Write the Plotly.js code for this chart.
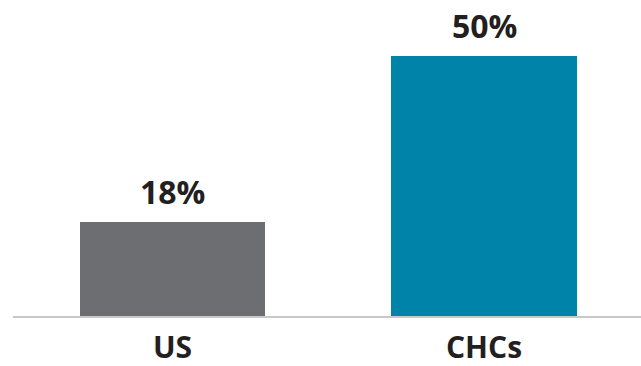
<!DOCTYPE html>
<html>
<head>
<meta charset="utf-8">
<script src="https://cdn.plot.ly/plotly-3.0.1.min.js"></script>
<style>html,body{margin:0;padding:0;background:#fff;}#chart{width:641px;height:366px;}</style>
</head>
<body>
<div id="chart"></div>
<script>
const categories = ["US", "CHCs"];
const values = [18, 50];
const valueLabels = ["18%", "50%"];
const barColors = ["#6d6e71", "#0083a9"];

const trace = {
  type: "bar",
  x: categories,
  y: values,
  marker: { color: barColors },
  width: 0.594,
  hoverinfo: "none"
};

const annotations = categories.map((c, i) => ({
  x: c,
  y: values[i],
  xref: "x",
  yref: "y",
  text: valueLabels[i],
  showarrow: false,
  yanchor: "bottom",
  yshift: 7,
  font: { family: "Open Sans", size: 32, color: "#231f20", weight: 700 }
}));

const layout = {
  width: 641,
  height: 366,
  margin: { l: 13, r: 0, t: 0, b: 50 },
  paper_bgcolor: "#ffffff",
  plot_bgcolor: "#ffffff",
  showlegend: false,
  bargap: 0,
  annotations: annotations,
  xaxis: {
    range: [-0.512, 1.504],
    showline: true,
    linecolor: "#c8c8c8",
    linewidth: 2,
    ticks: "",
    tickfont: { family: "Open Sans", size: 30, color: "#231f20", weight: 700 },
    ticklabelstandoff: 4,
    fixedrange: true
  },
  yaxis: {
    range: [0, 60.8],
    visible: false,
    showgrid: false,
    zeroline: false,
    fixedrange: true
  }
};

Plotly.newPlot("chart", [trace], layout, { displayModeBar: false, staticPlot: true });
</script>
</body>
</html>
